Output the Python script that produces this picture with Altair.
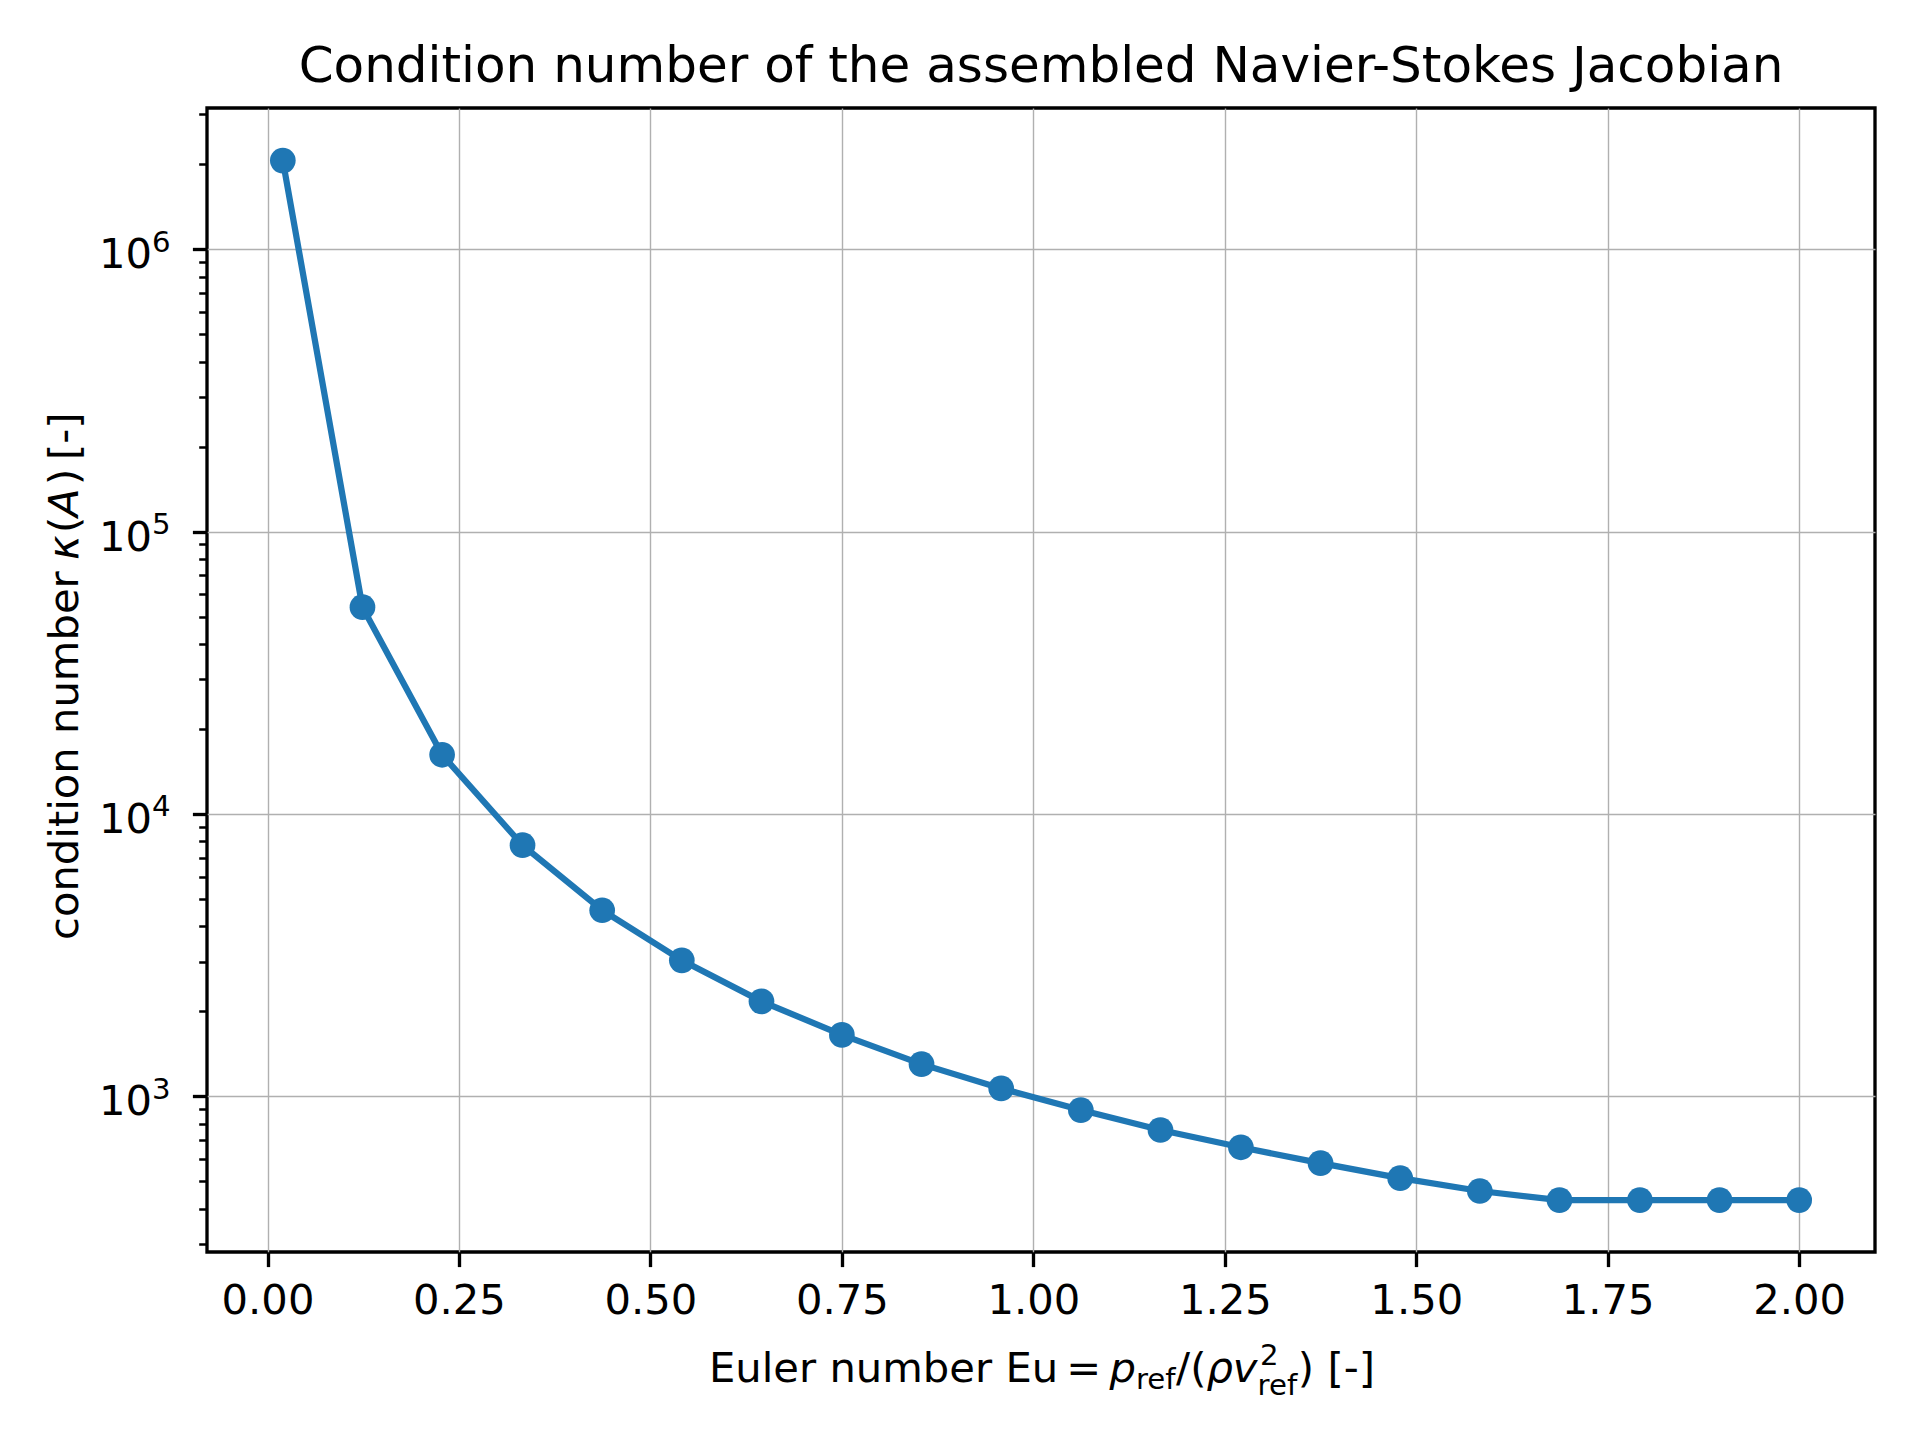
import altair as alt
import pandas as pd

# ---- data ----
eu = [0.020, 0.124, 0.228, 0.333, 0.437, 0.541, 0.645, 0.750, 0.854, 0.958,
      1.062, 1.166, 1.271, 1.375, 1.479, 1.583, 1.687, 1.792, 1.896, 2.000]
kappa = [2.06e6, 5.4e4, 1.62e4, 7.75e3, 4.56e3, 3.03e3, 2.17e3, 1.65e3, 1.30e3, 1.067e3,
         894, 760, 660, 580, 513, 462, 429, 429, 429, 429]

x_ticks = [0.0, 0.25, 0.5, 0.75, 1.0, 1.25, 1.5, 1.75, 2.0]
y_major = [1e3, 1e4, 1e5, 1e6]
y_exp = ["3", "4", "5", "6"]
y_minor = [300, 400, 500, 600, 700, 800, 900,
           2000, 3000, 4000, 5000, 6000, 7000, 8000, 9000,
           20000, 30000, 40000, 50000, 60000, 70000, 80000, 90000,
           200000, 300000, 400000, 500000, 600000, 700000, 800000, 900000,
           2000000, 3000000]
title_text = "Condition number of the assembled Navier-Stokes Jacobian"

# ---- style ----
W, H = 1668, 1144
FONT = "DejaVu Sans"
FS = 41.7
SS = 29.2
BLUE = "#1f77b4"
GRID = "#b0b0b0"

df = pd.DataFrame({"eu": eu, "kappa": kappa})
ylab_df = pd.DataFrame({"v": y_major, "e": y_exp})
dummy = pd.DataFrame({"k": [0]})

xscale = alt.Scale(domain=[-0.079, 2.099], nice=False, zero=False)
yscale = alt.Scale(type="log", domain=[281, 3.162e6], nice=False)

major_test = ("datum.value == 1000 || datum.value == 10000 || "
              "datum.value == 100000 || datum.value == 1000000")

xaxis = alt.Axis(values=x_ticks, format=".2f", title=None, grid=True,
                 gridColor=GRID, gridWidth=1.4, domain=False,
                 tickColor="black", tickSize=14.6, tickWidth=3.33,
                 labelFont=FONT, labelFontSize=FS, labelColor="black",
                 labelBaseline="alphabetic", labelPadding=46.4,
                 labelFlush=False, labelOverlap=False)
yaxis = alt.Axis(values=y_major + y_minor, labels=False, title=None,
                 domain=False, grid=True, gridColor=GRID, gridWidth=1.4,
                 gridOpacity={"condition": {"test": major_test, "value": 1}, "value": 0},
                 tickColor="black",
                 tickSize={"condition": {"test": major_test, "value": 14.6}, "value": 8.3},
                 tickWidth={"condition": {"test": major_test, "value": 3.33}, "value": 2.5})

xenc = alt.X("eu:Q", scale=xscale, axis=xaxis)
yenc = alt.Y("kappa:Q", scale=yscale, axis=yaxis)

line = alt.Chart(df).mark_line(color=BLUE, strokeWidth=6.25).encode(x=xenc, y=yenc)
pts = alt.Chart(df).mark_point(filled=True, size=660, opacity=1, color=BLUE,
                               shape="circle").encode(x=xenc, y=yenc)

# y tick labels 10^n
ten = alt.Chart(ylab_df).mark_text(
    text="10", align="right", baseline="alphabetic", font=FONT, fontSize=FS,
    color="black", dy=19).encode(
    x=alt.value(-55), y=alt.Y("v:Q", scale=yscale, axis=yaxis))
sup = alt.Chart(ylab_df).mark_text(
    align="left", baseline="alphabetic", font=FONT, fontSize=SS,
    color="black", dy=2.4).encode(
    x=alt.value(-55), y=alt.Y("v:Q", scale=yscale, axis=yaxis), text="e:N")


def piece(txt, x, y, size=FS, italic=False, angle=0, align="left"):
    return alt.Chart(dummy).mark_text(
        text=txt, align=align, baseline="alphabetic", font=FONT,
        fontSize=size, fontStyle="italic" if italic else "normal",
        color="black", angle=angle).encode(x=alt.value(x), y=alt.value(y))


# title
title = piece(title_text, W / 2, -26.3, size=50, align="center")

# x axis title: Euler number Eu = p_ref/(rho v_ref^2) [-]
X0 = 502
BY = 1274
xlabel = [
    piece("Euler number", X0 + 0, BY),
    piece("Eu", X0 + 296.4, BY),
    piece("=", X0 + 357.3, BY),
    piece("p", X0 + 400.4, BY, italic=True),
    piece("ref", X0 + 426.9, BY + 6.8, size=SS),
    piece("/(", X0 + 467.1, BY),
    piece("ρv", X0 + 497.4, BY, italic=True),
    piece("2", X0 + 551.0, BY - 17, size=SS),
    piece("ref", X0 + 548.6, BY + 13, size=SS),
    piece(")", X0 + 588.8, BY),
    piece("[-]", X0 + 618.4, BY),
]

# y axis title: condition number kappa(A) [-]
YX = -128.7
ylabel = [
    piece("condition number", YX, 832, angle=270),
    piece("κ", YX, 452, italic=True, angle=270),
    piece("(", YX, 425, angle=270),
    piece("A", YX, 409, italic=True, angle=270),
    piece(")", YX, 377, angle=270),
    piece("[-]", YX, 352, angle=270),
]

chart = alt.layer(line, pts, ten, sup, title, *xlabel, *ylabel).properties(
    width=W, height=H,
    autosize=alt.AutoSizeParams(type="none"),
    padding={"left": 199, "top": 100, "right": 30, "bottom": 170},
    background="white",
).configure_view(stroke="black", strokeWidth=3.33)

chart.save("out.html", embed_options={"renderer": "svg", "actions": False})
